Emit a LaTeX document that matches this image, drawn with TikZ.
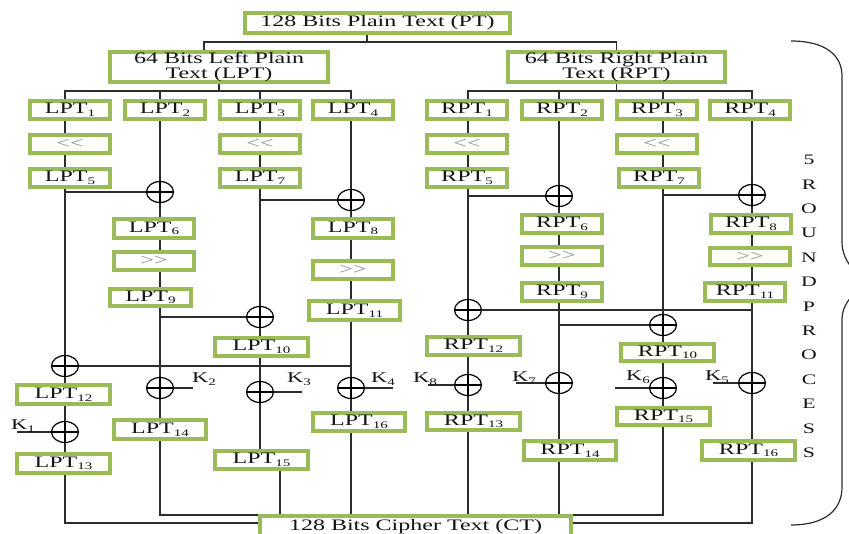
\documentclass[tikz,border=0pt]{standalone}
\usepackage{fontspec}
\setmainfont[FakeStretch=1.5]{Liberation Serif}
\usetikzlibrary{shapes.geometric}
\pgfdeclarelayer{background}
\pgfsetlayers{background,main}
\definecolor{boxgreen}{RGB}{155,187,89}
\definecolor{linegray}{RGB}{45,45,45}
\definecolor{shiftgray}{RGB}{140,140,140}
\definecolor{txtdark}{RGB}{20,20,20}
\newcommand\sbx[1]{\raisebox{-0.35ex}{\fontsize{10}{10}\selectfont #1}}
\tikzset{
  gbox/.style={draw=boxgreen, line width=4pt, inner sep=0pt, fill=white,
    font=\fontsize{16}{16}\selectfont, text=txtdark},
  hbox/.style={gbox, font=\fontsize{16}{15.5}\selectfont, align=center},
  shbox/.style={gbox, text=shiftgray},
  conn/.style={draw=linegray, line width=1.2pt},
  xor/.style={ellipse, draw=black, line width=1.2pt, minimum width=27pt,
    minimum height=21pt, inner sep=0pt, fill=white,
    path picture={\draw[line width=1.1pt]
      (path picture bounding box.north) -- (path picture bounding box.south)
      (path picture bounding box.west) -- (path picture bounding box.east);}},
  klab/.style={font=\fontsize{15}{15}\selectfont, text=txtdark, inner sep=0pt},
  sidetxt/.style={font=\fontsize{14.5}{24.4}\selectfont, text=txtdark, align=center, inner sep=0pt},
  bracestyle/.style={draw=linegray, line width=1.2pt},
}
\newcommand\gbx[7][gbox]{\node[#1, minimum width={(#4)-(#3)-4}, minimum height={(#6)-(#5)-4}] (#2) at ({((#3)+(#4))/2},{((#5)+(#6))/2}) {#7};}
\newcommand\vlk[3]{\draw[conn] (#1.south -| #3) -- (#2.north -| #3);}
\newcommand\shl{<{}<}
\newcommand\shr{>{}>}
\begin{document}
\begin{tikzpicture}[x=1pt,y=-1pt]
\clip (0,0) rectangle (849,534);
% column coordinates
\coordinate (cL1) at (65,0);
\coordinate (cL2) at (160,0);
\coordinate (cL3) at (260,0);
\coordinate (cL4) at (351,0);
\coordinate (cR1) at (468,0);
\coordinate (cR2) at (559,0);
\coordinate (cR3) at (663,0);
\coordinate (cR4) at (752,0);
\coordinate (c15) at (280,0);
\coordinate (lhx) at (204,0);
\coordinate (tj) at (367,42);
\coordinate (bus) at (0,91);

% top
\gbx[hbox]{pt}{243}{512}{11}{35}{128 Bits Plain Text (PT)}
\gbx[hbox]{lh}{108}{330}{50}{84}{64 Bits Left Plain\\Text (LPT)}
\gbx[hbox]{rh}{506}{727}{50}{84}{64 Bits Right Plain\\Text (RPT)}

% left side
\gbx{lpt1}{28}{112}{99}{121}{LPT\sbx{1}}
\gbx{lpt2}{123}{207}{99}{121}{LPT\sbx{2}}
\gbx{lpt3}{218}{302}{99}{121}{LPT\sbx{3}}
\gbx{lpt4}{311}{395}{99}{121}{LPT\sbx{4}}
\gbx[shbox]{lsh1}{28}{112}{133}{155}{\shl}
\gbx[shbox]{lsh3}{218}{302}{133}{155}{\shl}
\gbx{lpt5}{28}{112}{167}{189}{LPT\sbx{5}}
\gbx{lpt7}{218}{302}{167}{189}{LPT\sbx{7}}
\node[xor] (lx1) at (160,192) {};
\node[xor] (lx2) at (351,200) {};
\gbx{lpt6}{112}{196}{217}{240}{LPT\sbx{6}}
\gbx[shbox]{lsh6}{112}{196}{250}{272}{\shr}
\gbx{lpt9}{108}{193}{287}{308}{LPT\sbx{9}}
\gbx{lpt8}{311}{395}{217}{240}{LPT\sbx{8}}
\gbx[shbox]{lsh8}{311}{395}{259}{281}{\shr}
\gbx{lpt11}{307}{402}{299}{322}{LPT\sbx{11}}
\node[xor] (lx3) at (260,317) {};
\gbx{lpt10}{213}{310}{336}{358}{LPT\sbx{10}}
\node[xor] (lx4) at (65,366) {};
\gbx{lpt12}{15}{112}{383}{406}{LPT\sbx{12}}
\node[xor] (lx5) at (65,432) {};
\gbx{lpt13}{15}{112}{452}{475}{LPT\sbx{13}}
\node[xor] (lx6) at (160,388) {};
\gbx{lpt14}{112}{208}{418}{441}{LPT\sbx{14}}
\node[xor] (lx7) at (260,392) {};
\gbx{lpt15}{213}{310}{449}{471}{LPT\sbx{15}}
\node[xor] (lx8) at (351,388) {};
\gbx{lpt16}{311}{407}{411}{433}{LPT\sbx{16}}

% right side
\gbx{rpt1}{425}{509}{99}{121}{RPT\sbx{1}}
\gbx{rpt2}{520}{604}{99}{121}{RPT\sbx{2}}
\gbx{rpt3}{615}{699}{99}{121}{RPT\sbx{3}}
\gbx{rpt4}{708}{792}{99}{121}{RPT\sbx{4}}
\gbx[shbox]{rsh1}{425}{509}{133}{155}{\shl}
\gbx[shbox]{rsh3}{615}{699}{133}{155}{\shl}
\gbx{rpt5}{425}{509}{167}{189}{RPT\sbx{5}}
\gbx{rpt7}{617}{701}{167}{189}{RPT\sbx{7}}
\node[xor] (rx1) at (559,196) {};
\node[xor] (rx2) at (752,195) {};
\gbx{rpt6}{520}{604}{213}{235}{RPT\sbx{6}}
\gbx[shbox]{rsh6}{520}{604}{245}{267}{\shr}
\gbx{rpt9}{520}{604}{281}{303}{RPT\sbx{9}}
\gbx{rpt8}{709}{793}{213}{235}{RPT\sbx{8}}
\gbx[shbox]{rsh8}{708}{792}{246}{267}{\shr}
\gbx{rpt11}{703}{787}{281}{303}{RPT\sbx{11}}
\node[xor] (rx3) at (468,310) {};
\node[xor] (rx4) at (663,325) {};
\gbx{rpt12}{425}{522}{335}{357}{RPT\sbx{12}}
\gbx{rpt10}{619}{716}{342}{363}{RPT\sbx{10}}
\node[xor] (rx5) at (468,385) {};
\gbx{rpt13}{425}{522}{411}{432}{RPT\sbx{13}}
\node[xor] (rx6) at (559,383) {};
\gbx{rpt14}{522}{618}{439}{462}{RPT\sbx{14}}
\node[xor] (rx7) at (663,388) {};
\gbx{rpt15}{615}{712}{406}{427}{RPT\sbx{15}}
\node[xor] (rx8) at (752,383) {};
\gbx{rpt16}{700}{797}{439}{462}{RPT\sbx{16}}

% cipher text
\node[gbox, font=\fontsize{16}{16}\selectfont, anchor=north, minimum width=311pt,
  text height=11pt, text depth=9pt, inner ysep=3pt] (ct) at (415.5,514) {128 Bits Cipher Text (CT)};

% key labels and key line ends
\coordinate (k1e) at (17,432);
\coordinate (k2e) at (193,388);
\coordinate (k3e) at (302,392);
\coordinate (k4e) at (393,388);
\coordinate (k8e) at (428,385);
\coordinate (k7e) at (516,383);
\coordinate (k6e) at (615,388);
\coordinate (k5e) at (713,383);
\node[klab] (k1) at (23,426) {K\sbx{1}};
\node[klab] (k2) at (204,379) {K\sbx{2}};
\node[klab] (k3) at (299,379) {K\sbx{3}};
\node[klab] (k4) at (383,379) {K\sbx{4}};
\node[klab] (k8) at (425,379) {K\sbx{8}};
\node[klab] (k7) at (524,378) {K\sbx{7}};
\node[klab] (k6) at (638,377) {K\sbx{6}};
\node[klab] (k5) at (717,377) {K\sbx{5}};

% side text
\node[sidetxt] (side) at (809,306.5) {5\\R\\O\\U\\N\\D\\P\\R\\O\\C\\E\\S\\S};

\begin{pgfonlayer}{background}
% top tree
\draw[conn] (pt.south -| tj) -- (tj);
\draw[conn] (lh.north -| lhx) |- (tj) -| (rh.north);
% buses
\draw[conn] (lh.south) -- (lh.south |- bus);
\draw[conn] (lpt1.north -| cL1) -- (cL1 |- bus) -- (cL4 |- bus) -- (lpt4.north -| cL4);
\draw[conn] (lpt2.north -| cL2) -- (cL2 |- bus);
\draw[conn] (lpt3.north -| cL3) -- (cL3 |- bus);
\draw[conn] (rh.south) -- (rh.south |- bus);
\draw[conn] (rpt1.north -| cR1) -- (cR1 |- bus) -- (cR4 |- bus) -- (rpt4.north -| cR4);
\draw[conn] (rpt2.north -| cR2) -- (cR2 |- bus);
\draw[conn] (rpt3.north -| cR3) -- (cR3 |- bus);
% left column 1
\vlk{lpt1}{lsh1}{cL1} \vlk{lsh1}{lpt5}{cL1} \vlk{lpt5}{lx4}{cL1}
\vlk{lx4}{lpt12}{cL1} \vlk{lpt12}{lx5}{cL1} \vlk{lx5}{lpt13}{cL1}
% left column 2
\vlk{lpt2}{lx1}{cL2} \vlk{lx1}{lpt6}{cL2} \vlk{lpt6}{lsh6}{cL2}
\vlk{lsh6}{lpt9}{cL2} \vlk{lpt9}{lx6}{cL2} \vlk{lx6}{lpt14}{cL2}
% left column 3
\vlk{lpt3}{lsh3}{cL3} \vlk{lsh3}{lpt7}{cL3} \vlk{lpt7}{lx3}{cL3}
\vlk{lx3}{lpt10}{cL3} \vlk{lpt10}{lx7}{cL3} \vlk{lx7}{lpt15}{cL3}
% left column 4
\vlk{lpt4}{lx2}{cL4} \vlk{lx2}{lpt8}{cL4} \vlk{lpt8}{lsh8}{cL4}
\vlk{lsh8}{lpt11}{cL4} \vlk{lpt11}{lx8}{cL4} \vlk{lx8}{lpt16}{cL4}
% left cross links
\draw[conn] (lx1.west) -- (lx1.west -| cL1);
\draw[conn] (lx2.west) -- (lx2.west -| cL3);
\draw[conn] (lx3.west) -- (lx3.west -| cL2);
\draw[conn] (lx4.east) -- (lx4.east -| cL4);
% right column 1
\vlk{rpt1}{rsh1}{cR1} \vlk{rsh1}{rpt5}{cR1} \vlk{rpt5}{rx3}{cR1}
\vlk{rx3}{rpt12}{cR1} \vlk{rpt12}{rx5}{cR1} \vlk{rx5}{rpt13}{cR1}
% right column 2
\vlk{rpt2}{rx1}{cR2} \vlk{rx1}{rpt6}{cR2} \vlk{rpt6}{rsh6}{cR2}
\vlk{rsh6}{rpt9}{cR2} \vlk{rpt9}{rx6}{cR2} \vlk{rx6}{rpt14}{cR2}
% right column 3
\vlk{rpt3}{rsh3}{cR3} \vlk{rsh3}{rpt7}{cR3} \vlk{rpt7}{rx4}{cR3}
\vlk{rx4}{rpt10}{cR3} \vlk{rpt10}{rx7}{cR3} \vlk{rx7}{rpt15}{cR3}
% right column 4
\vlk{rpt4}{rx2}{cR4} \vlk{rx2}{rpt8}{cR4} \vlk{rpt8}{rsh8}{cR4}
\vlk{rsh8}{rpt11}{cR4} \vlk{rpt11}{rx8}{cR4} \vlk{rx8}{rpt16}{cR4}
% right cross links
\draw[conn] (rx1.west) -- (rx1.west -| cR1);
\draw[conn] (rx2.west) -- (rx2.west -| cR3);
\draw[conn] (rx3.east) -- (rx3.east -| cR4);
\draw[conn] (rx4.west) -- (rx4.west -| cR2);
% key lines
\draw[conn] (lx5.west) -- (k1e);
\draw[conn] (lx6.east) -- (k2e);
\draw[conn] (lx7.east) -- (k3e);
\draw[conn] (lx8.east) -- (k4e);
\draw[conn] (rx5.west) -- (k8e);
\draw[conn] (rx6.west) -- (k7e);
\draw[conn] (rx7.west) -- (k6e);
\draw[conn] (rx8.west) -- (k5e);
% outputs to cipher text
\draw[conn] (lpt13.south -| cL1) |- ([yshift=-9pt]ct.north west);
\draw[conn] (lpt14.south -| cL2) |- ([yshift=-1pt]ct.north west);
\draw[conn] (lpt15.south -| c15) -- (ct.north -| c15);
\draw[conn] (lpt16.south -| cL4) -- (ct.north -| cL4);
\draw[conn] (rpt13.south -| cR1) -- (ct.north -| cR1);
\draw[conn] (rpt14.south -| cR2) -- (ct.north -| cR2);
\draw[conn] (rpt15.south -| cR3) |- ([yshift=-1pt]ct.north east);
\draw[conn] (rpt16.south -| cR4) |- ([yshift=-9pt]ct.north east);
\end{pgfonlayer}

% brace
\draw[bracestyle] (791,41) .. controls (825,41) and (842,55) .. (842,76)
  -- (842,242) .. controls (842,252) and (846,262) .. (854,270);
\draw[bracestyle] (854,294) .. controls (846,302) and (842,310) .. (842,320)
  -- (842,487) .. controls (842,510) and (825,525) .. (791,525);
\end{tikzpicture}
\end{document}
